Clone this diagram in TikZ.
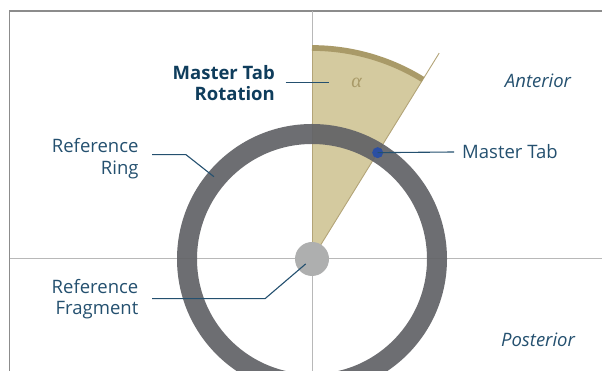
\documentclass[tikz,border=0pt]{standalone}
\usepackage{fontspec}
\setmainfont{Open Sans}
\newfontfamily\greekfont{Liberation Serif}
\usetikzlibrary{positioning}

\definecolor{framegray}{HTML}{8C8C8C}
\definecolor{axisgray}{HTML}{B8B8B8}
\definecolor{wedgetan}{HTML}{D4CA9F}
\definecolor{arctan}{HTML}{A99A68}
\definecolor{edgetan}{HTML}{B3A478}
\definecolor{ringgray}{HTML}{626367}
\definecolor{fraggray}{HTML}{AEAFAF}
\definecolor{tabblue}{HTML}{2B4FA3}
\definecolor{labelblue}{HTML}{24506F}
\definecolor{boldblue}{HTML}{0F3D5C}

\begin{document}
\begin{tikzpicture}[
  x=1pt, y=1pt,
  frameline/.style={draw=framegray, line width=1.5pt},
  axis/.style={draw=axisgray, line width=1pt},
  ring/.style={draw=ringgray, line width=20pt, draw opacity=0.93},
  edge/.style={draw=edgetan, line width=0.9pt},
  leader/.style={draw=labelblue, line width=1.1pt},
  lbl/.style={font=\fontsize{18.5}{21.5}\selectfont, text=labelblue, align=right, inner sep=0pt},
  boldlbl/.style={font=\fontsize{18.5}{21.5}\selectfont\bfseries, text=boldblue, align=right, inner sep=0pt},
  sidelbl/.style={font=\fontsize{18.5}{21.5}\selectfont\itshape, text=labelblue, inner sep=0pt}
]
  \useasboundingbox (0,0) rectangle (602,371);

  % Frame and axes
  \coordinate (o) at (312,112);
  \draw[frameline] (9.5,0) -- (9.5,360) -- (602,360);
  \draw[axis] (312,0) -- (312,360);
  \draw[axis] (9.5,112) -- (602,112);

  % Rotation wedge
  \fill[wedgetan] (o) -- ++(58.3:209) arc[start angle=58.3, end angle=90, radius=209] -- cycle;
  \draw[edge] (o) -- ++(58.3:242);
  \draw[edge] (o) -- ++(90:209);
  \draw[draw=arctan, line width=5.7pt] ([shift={(58.3:211)}]o) arc[start angle=58.3, end angle=90, radius=211];
  \node[text=arctan, font=\fontsize{20}{20}\greekfont\itshape] (alpha) at (356.7,288) {α};

  % Ring and fragment
  \draw[ring] (o) circle[radius=125];
  \fill[fraggray] (o) circle[radius=17];
  \coordinate (tab) at ([shift={(58.3:125)}]o);
  \fill[tabblue] (tab) circle[radius=5.5];

  % Points for the leaders
  \coordinate (ringpt) at ([shift={(140:128)}]o);
  \coordinate (fragpt) at ([shift={(218:8)}]o);
  \coordinate (rotpt) at (329,288.7);

  % Labels
  \node[boldlbl, anchor=east] (rotlbl) at (275,288) {Master Tab\\Rotation};
  \node[lbl, anchor=east] (ringlbl) at (138.7,212.5) {Reference\\Ring};
  \node[lbl, anchor=east] (fraglbl) at (138.5,71.7) {Reference\\Fragment};
  \node[lbl, anchor=west] (tablbl) at (462,219) {Master Tab};
  \node[sidelbl] (ant) at (538,290) {Anterior};
  \node[sidelbl] (post) at (538,31) {Posterior};

  % Leaders
  \draw[leader] ([xshift=10.7pt,yshift=0.7pt]rotlbl.east) -- (rotpt);
  \draw[leader] ([xshift=13.3pt,yshift=3.8pt]ringlbl.east) -- ++(34,0) -- (ringpt);
  \draw[leader] ([xshift=13.5pt,yshift=0.6pt]fraglbl.east) -- ++(113,0) -- (fragpt);
  \draw[leader] (tab) -- ([xshift=-8pt]tablbl.west);
\end{tikzpicture}
\end{document}
